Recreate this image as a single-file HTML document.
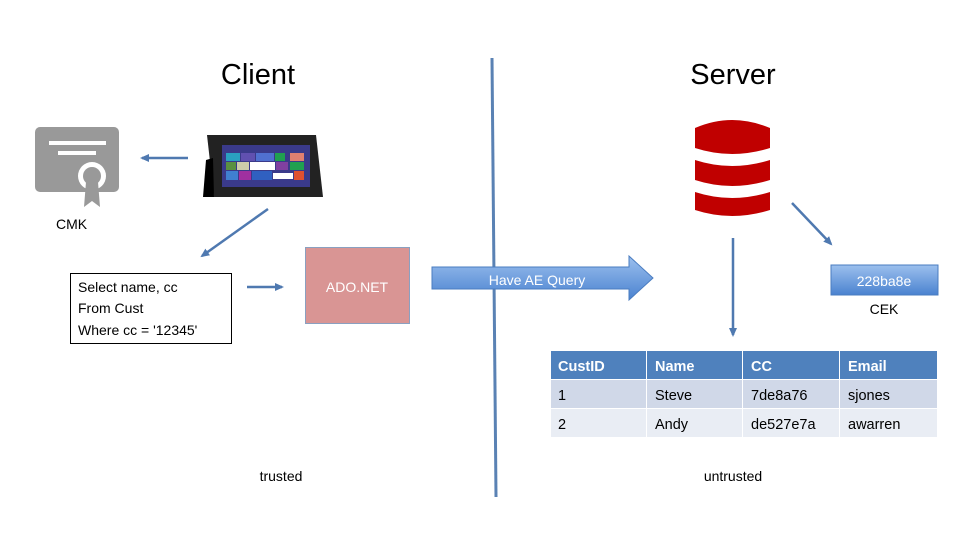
<!DOCTYPE html>
<html><head><meta charset="utf-8"><style>
html,body{margin:0;padding:0;background:#fff;}
svg{display:block;font-family:"Liberation Sans",sans-serif;}
</style></head><body>
<svg width="960" height="540" viewBox="0 0 960 540" xmlns="http://www.w3.org/2000/svg">
<defs>
<marker id="ah" markerWidth="10" markerHeight="10" refX="7" refY="5" orient="auto" markerUnits="userSpaceOnUse"><path d="M0,1 L9,5 L0,9 z" fill="#4f79b0"/></marker>
<linearGradient id="bg" x1="0" y1="0" x2="0" y2="1"><stop offset="0" stop-color="#9cc0ee"/><stop offset="1" stop-color="#4a82d0"/></linearGradient>
</defs>
<text x="258" y="84" font-size="29" text-anchor="middle" fill="#000">Client</text>
<text x="733" y="84" font-size="29" text-anchor="middle" fill="#000">Server</text>
<line x1="492" y1="58" x2="496" y2="497" stroke="#5a82b4" stroke-width="3"/>
<!-- certificate -->
<rect x="35" y="127" width="84" height="65" rx="5" fill="#999"/>
<rect x="49" y="141" width="57" height="4" fill="#fff"/>
<rect x="58" y="151" width="38" height="4" fill="#fff"/>
<circle cx="92" cy="176" r="14" fill="#fff"/>
<circle cx="92" cy="176" r="9" fill="#999"/>
<path d="M86,182 L84,207 L92,201 L100,207 L98,182 z" fill="#999"/>
<text x="56" y="229" font-size="14" fill="#000">CMK</text>
<line x1="188" y1="158" x2="142" y2="158" stroke="#4f79b0" stroke-width="2.5" marker-end="url(#ah)"/>
<!-- tablet -->
<path d="M207,135 L316,135 L323,197 L214,197 z" fill="#222"/>
<path d="M206,160 L213,158 L214,197 L203,197 z" fill="#000"/>
<rect x="222" y="145" width="88" height="42" fill="#3a3a8a"/>
<rect x="226" y="153" width="14" height="8" fill="#2aa0c0"/><rect x="241" y="153" width="14" height="8" fill="#6050b0"/><rect x="256" y="153" width="18" height="8" fill="#5070d0"/><rect x="275" y="153" width="10" height="8" fill="#20a050"/><rect x="290" y="153" width="14" height="8" fill="#e08070"/>
<rect x="226" y="162" width="10" height="8" fill="#5a9040"/><rect x="237" y="162" width="12" height="8" fill="#ccccaa"/><rect x="250" y="162" width="25" height="8" fill="#fff"/><rect x="276" y="162" width="12" height="8" fill="#8040a0"/><rect x="290" y="162" width="14" height="8" fill="#20a050"/>
<rect x="226" y="171" width="12" height="9" fill="#4080d0"/><rect x="239" y="171" width="12" height="9" fill="#a030a0"/><rect x="252" y="171" width="20" height="9" fill="#3060c0"/><rect x="273" y="173" width="20" height="6" fill="#fff"/><rect x="294" y="171" width="10" height="9" fill="#e05030"/>
<line x1="268" y1="209" x2="202" y2="256" stroke="#4f79b0" stroke-width="2.5" marker-end="url(#ah)"/>
<!-- query box -->
<rect x="70.5" y="273.5" width="161" height="70" fill="#fff" stroke="#000" stroke-width="1"/>
<text font-size="14" fill="#000"><tspan x="78" y="292">Select name, cc</tspan><tspan x="78" y="313">From Cust</tspan><tspan x="78" y="335">Where cc = '12345'</tspan></text>
<line x1="247" y1="287" x2="282" y2="287" stroke="#4f79b0" stroke-width="2.5" marker-end="url(#ah)"/>
<!-- ADO -->
<rect x="305.5" y="247.5" width="104" height="76" fill="#d99594" stroke="#8aa0c0" stroke-width="1"/>
<text x="357" y="292" font-size="14" fill="#fff" text-anchor="middle">ADO.NET</text>
<!-- big arrow -->
<path d="M432,267 L629,267 L629,256 L653,278 L629,300 L629,289 L432,289 z" fill="url(#bg)" stroke="#4a7cc0" stroke-width="1"/>
<text x="537" y="285" font-size="14" fill="#fff" text-anchor="middle">Have AE Query</text>
<!-- DB -->
<g fill="#c00000">
<path d="M695,128 Q732,112 770,128 L770,148 Q732,160 695,148 z"/>
<path d="M695,160 Q732,172 770,160 L770,180 Q732,192 695,180 z"/>
<path d="M695,192 Q732,204 770,192 L770,210 Q732,222 695,210 z"/>
</g>
<line x1="792" y1="203" x2="831" y2="244" stroke="#4f79b0" stroke-width="2.5" marker-end="url(#ah)"/>
<line x1="733" y1="238" x2="733" y2="335" stroke="#4f79b0" stroke-width="2.5" marker-end="url(#ah)"/>
<rect x="831" y="265" width="107" height="30" fill="url(#bg)" stroke="#4a7cc0"/>
<text x="884" y="286" font-size="14" fill="#fff" text-anchor="middle">228ba8e</text>
<text x="884" y="314" font-size="14" fill="#000" text-anchor="middle">CEK</text>
<!-- table -->
<g font-size="14.5">
<rect x="551" y="351" width="95" height="28" fill="#4f81bd"/><rect x="647" y="351" width="95" height="28" fill="#4f81bd"/><rect x="743" y="351" width="96" height="28" fill="#4f81bd"/><rect x="840" y="351" width="97" height="28" fill="#4f81bd"/>
<rect x="551" y="380" width="95" height="28" fill="#d0d8e8"/><rect x="647" y="380" width="95" height="28" fill="#d0d8e8"/><rect x="743" y="380" width="96" height="28" fill="#d0d8e8"/><rect x="840" y="380" width="97" height="28" fill="#d0d8e8"/>
<rect x="551" y="409" width="95" height="28" fill="#e9edf4"/><rect x="647" y="409" width="95" height="28" fill="#e9edf4"/><rect x="743" y="409" width="96" height="28" fill="#e9edf4"/><rect x="840" y="409" width="97" height="28" fill="#e9edf4"/>
<g fill="#fff" font-weight="bold"><text x="558" y="371">CustID</text><text x="655" y="371">Name</text><text x="751" y="371">CC</text><text x="848" y="371">Email</text></g>
<g fill="#000"><text x="558" y="400">1</text><text x="655" y="400">Steve</text><text x="751" y="400">7de8a76</text><text x="848" y="400">sjones</text>
<text x="558" y="429">2</text><text x="655" y="429">Andy</text><text x="751" y="429">de527e7a</text><text x="848" y="429">awarren</text></g>
</g>
<text x="281" y="481" font-size="14" fill="#000" text-anchor="middle">trusted</text>
<text x="733" y="481" font-size="14" fill="#000" text-anchor="middle">untrusted</text>
</svg>
</body></html>
